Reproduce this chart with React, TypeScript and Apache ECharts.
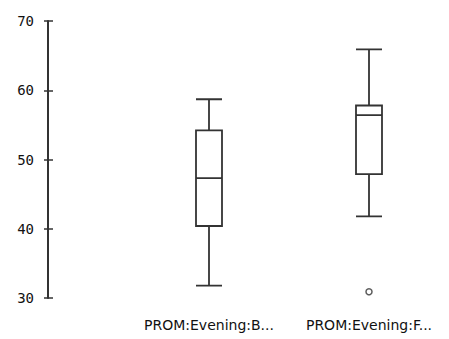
import React, { useEffect, useRef } from "react";
import * as echarts from "echarts";

const categories = ["PROM:Evening:B...", "PROM:Evening:F..."];
// [min, Q1, median, Q3, max]
const boxValues = [
  [31.8, 40.4, 47.3, 54.2, 58.7],
  [41.8, 47.9, 56.4, 57.8, 65.9],
];
const outliers = [[1, 30.9]];
const yTicks = [30, 40, 50, 60, 70];

export default function App() {
  const ref = useRef<HTMLDivElement>(null);
  useEffect(() => {
    if (!ref.current) return;
    const chart = echarts.init(ref.current, undefined, { renderer: "svg" });
    const lineColor = "#333333";
    chart.setOption({
      animation: false,
      backgroundColor: "#ffffff",
      grid: { left: 129, right: 0, top: 21, bottom: 41 },
      xAxis: {
        type: "category",
        data: categories,
        axisLine: { show: false },
        axisTick: { show: false },
        axisLabel: {
          margin: 20,
          color: "#111111",
          fontFamily: "DejaVu Sans",
          fontSize: 14,
          interval: 0,
        },
      },
      yAxis: [
        {
          type: "value",
          min: yTicks[0],
          max: yTicks[yTicks.length - 1],
          interval: 10,
          offset: 81,
          splitLine: { show: false },
          axisLine: { show: true, lineStyle: { color: lineColor, width: 2 } },
          axisTick: { show: true, length: 4, lineStyle: { color: lineColor, width: 1.5 } },
          axisLabel: {
            margin: 14,
            color: "#111111",
            fontFamily: "DejaVu Sans Mono",
            fontSize: 14,
          },
        },
        {
          type: "value",
          position: "left",
          min: yTicks[0],
          max: yTicks[yTicks.length - 1],
          interval: 10,
          offset: 81,
          splitLine: { show: false },
          axisLine: { show: false },
          axisTick: { show: true, inside: true, length: 5, lineStyle: { color: lineColor, width: 1.5 } },
          axisLabel: { show: false },
        },
      ],
      series: [
        {
          type: "boxplot",
          data: boxValues,
          boxWidth: [26, 26],
          itemStyle: { color: "#ffffff", borderColor: lineColor, borderWidth: 1.8 },
        },
        {
          type: "scatter",
          data: outliers,
          symbol: "circle",
          symbolSize: 6,
          itemStyle: { color: "#ffffff", borderColor: lineColor, borderWidth: 1.5 },
        },
      ],
    });
    return () => chart.dispose();
  }, []);
  return (
    <div
      ref={ref}
      style={{ position: "absolute", left: 0, top: 0, width: 449, height: 339 }}
    />
  );
}
